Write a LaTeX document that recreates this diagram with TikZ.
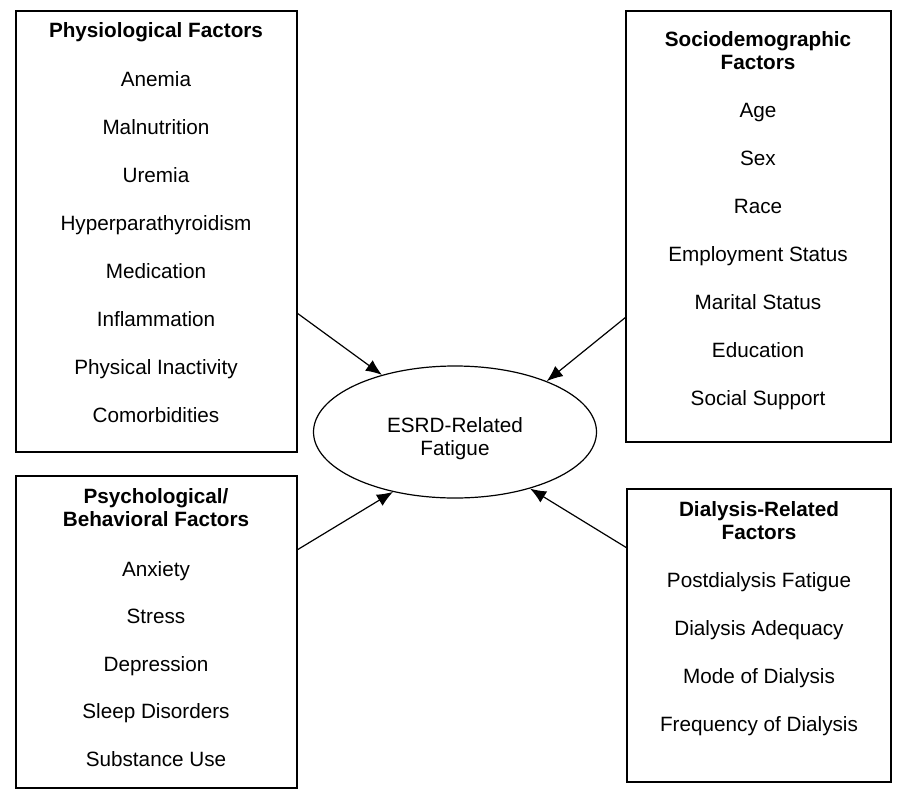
\documentclass[tikz,border=0pt]{standalone}
\usepackage{fontspec}
\setmainfont{Liberation Sans}
\usetikzlibrary{arrows.meta, shapes.geometric}

\tikzset{
    factorbox/.style={draw, line width=1.5pt, rectangle, inner sep=0pt},
    factortitle/.style={anchor=base, align=center, font=\fontsize{20.7}{23}\selectfont\bfseries},
    factoritem/.style={anchor=base, font=\fontsize{20.7}{23}\selectfont},
    influence/.style={line width=1.2pt, -{Latex[length=16pt, width=13pt]}}
}

\begin{document}
\begin{tikzpicture}[x=1pt, y=-1pt]
    \useasboundingbox (0, 0) rectangle (899, 790);
    % the four groups of factors
    \node[factorbox, minimum width=281pt, minimum height=441pt] (phys) at (156.5, 231.5) {};
    \node[factorbox, minimum width=265pt, minimum height=431pt] (socio) at (758.5, 226.5) {};
    \node[factorbox, minimum width=281pt, minimum height=312pt] (psych) at (156.5, 632) {};
    \node[factorbox, minimum width=264pt, minimum height=293pt] (dial) at (759, 635.5) {};
    % two-line titles sit on the baseline of their last line
    \node[factortitle] (physhead) at (156, 37) {Physiological Factors};
    \node[factortitle] (sociohead) at (758, 69) {Sociodemographic\\Factors};
    \node[factortitle] (psychhead) at (156, 526) {Psychological/\\Behavioral Factors};
    \node[factortitle] (dialhead) at (759, 539) {Dialysis-Related\\Factors};
    \foreach \txt [count=\i] in {Anemia, Malnutrition, Uremia, Hyperparathyroidism,
        Medication, Inflammation, Physical Inactivity, Comorbidities}
        \node[factoritem] (phys\i) at (156, {86 + 48*(\i-1)}) {\txt};
    \foreach \txt [count=\i] in {Age, Sex, Race, Employment Status, Marital Status,
        Education, Social Support}
        \node[factoritem] (socio\i) at (758, {117 + 48*(\i-1)}) {\txt};
    \foreach \txt [count=\i] in {Anxiety, Stress, Depression, Sleep Disorders, Substance Use}
        \node[factoritem] (psych\i) at (156, {576 + 47.5*(\i-1)}) {\txt};
    \foreach \txt [count=\i] in {Postdialysis Fatigue, Dialysis Adequacy, Mode of Dialysis,
        Frequency of Dialysis}
        \node[factoritem] (dial\i) at (759, {587 + 48*(\i-1)}) {\txt};
    % outcome
    \node[draw, ellipse, line width=1.2pt, minimum width=283pt, minimum height=132pt, inner sep=0pt] (esrd) at (455, 432) {};
    \node[factortitle, font=\fontsize{20.7}{23}\selectfont] (esrdtext) at (455, 455) {ESRD-Related\\Fatigue};
    \coordinate (physout) at (297, 313);
    \coordinate (socioout) at (626, 317);
    \coordinate (psychout) at (297, 550);
    \coordinate (dialout) at (627, 548);
    \draw[influence] (physout) -- (esrd.142.8);
    \draw[influence] (socioout) -- (esrd.29);
    \draw[influence] (psychout) -- (esrd.224);
    \draw[influence] (dialout) -- (esrd.323);
\end{tikzpicture}
\end{document}
